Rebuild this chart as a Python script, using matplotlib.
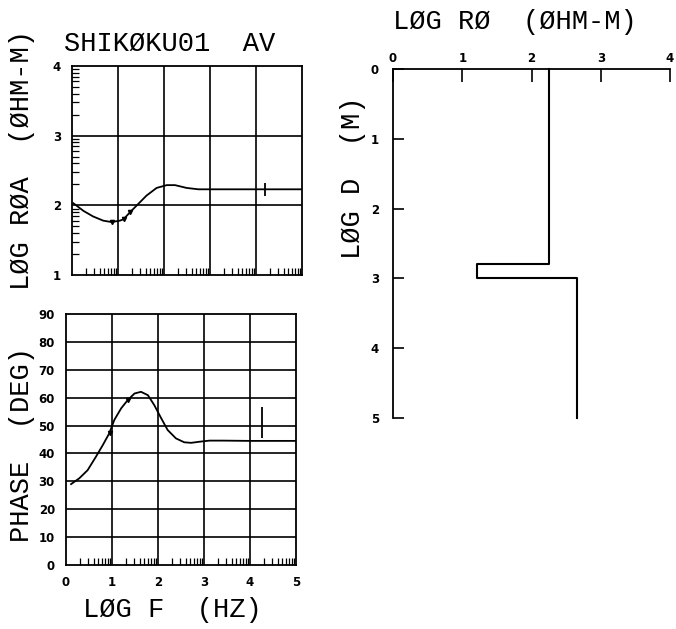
import numpy as np
import matplotlib
matplotlib.use("Agg")
import matplotlib.pyplot as plt

# apparent resistivity curve, log10(ohm-m) vs log10(f)
f_roa = [0.03, 0.25, 0.46, 0.68, 0.86, 1.04, 1.12, 1.26, 1.41, 1.62, 1.84,
         2.06, 2.24, 2.49, 2.75, 3.0, 3.43, 4.0, 4.5, 5.0]
roa = [2.03, 1.92, 1.84, 1.78, 1.76, 1.78, 1.80, 1.90, 2.00, 2.14, 2.25,
       2.29, 2.29, 2.25, 2.23, 2.23, 2.23, 2.23, 2.23, 2.23]
f_roa_obs = [0.86, 1.12, 1.26]
roa_obs = [1.76, 1.80, 1.90]
f_roa_err, roa_err_mid, roa_err = 4.2, 2.23, 0.09

# phase curve, degrees
f_ph = [0.11, 0.29, 0.47, 0.65, 0.80, 0.94, 1.05, 1.20, 1.34, 1.49, 1.63,
        1.78, 1.92, 2.07, 2.21, 2.39, 2.57, 2.72, 2.90, 3.12, 3.41, 4.0,
        4.5, 5.0]
phase = [29.0, 31.1, 34.0, 38.8, 43.0, 47.2, 52.0, 56.2, 59.1, 61.5, 62.1,
         60.9, 57.3, 52.6, 48.4, 45.4, 44.0, 43.8, 44.2, 44.6, 44.6, 44.5,
         44.5, 44.5]
f_ph_obs = [0.95, 1.35]
ph_obs = [47.5, 59.3]
f_ph_err, ph_err_mid, ph_err = 4.27, 51.0, 5.5

# layered model: log10 resistivity and log10 depth of layer boundaries
rho_layers = [2.25, 1.22, 2.65]
depth_tops = [0.0, 2.8, 3.0]
depth_bottom = 5.0

W, H = 676, 629
fig = plt.figure(figsize=(W / 100, H / 100), dpi=100)

big = dict(family="Liberation Mono", fontsize=19.5, color="black")
small = dict(family="DejaVu Sans", fontsize=8.5, fontweight="bold")


def box(x0, y0, x1, y1):
    return [x0 / W, 1 - y1 / H, (x1 - x0) / W, (y1 - y0) / H]


def log_minor(lo, hi):
    return [d + np.log10(k) for d in range(lo, hi) for k in range(2, 10)]


def frame(ax):
    for s in ax.spines.values():
        s.set_linewidth(1.3)
    ax.tick_params(which="both", direction="in", color="black")
    ax.tick_params(which="major", length=0, pad=8, width=1.2)
    ax.tick_params(which="minor", length=5, width=0.9)


# --- apparent resistivity ---
ax1 = fig.add_axes(box(72, 66, 302, 275))
ax1.set_xlim(0, 5)
ax1.set_ylim(1, 4)
for v in [1, 2, 3, 4]:
    ax1.axvline(v, color="black", lw=1.2)
for v in [2, 3]:
    ax1.axhline(v, color="black", lw=1.2)
ax1.plot(f_roa, roa, color="black", lw=1.3)
ax1.plot(f_roa_obs, roa_obs, "v", color="black", ms=3)
ax1.errorbar(f_roa_err, roa_err_mid, yerr=roa_err, color="black", lw=1.3,
             capsize=0)
ax1.set_xticks([0, 1, 2, 3, 4, 5])
ax1.set_xticklabels([])
ax1.set_xticks(log_minor(0, 5), minor=True)
ax1.set_yticks([1, 2, 3, 4])
ax1.set_yticklabels(["1", "2", "3", "4"], **small)
ax1.set_yticks(log_minor(1, 4), minor=True)
frame(ax1)

# --- phase ---
ax2 = fig.add_axes(box(66, 314, 296, 565))
ax2.set_xlim(0, 5)
ax2.set_ylim(0, 90)
for v in [1, 2, 3, 4]:
    ax2.axvline(v, color="black", lw=1.2)
for v in range(10, 90, 10):
    ax2.axhline(v, color="black", lw=1.2)
ax2.plot(f_ph, phase, color="black", lw=1.3)
ax2.plot(f_ph_obs, ph_obs, "v", color="black", ms=3)
ax2.errorbar(f_ph_err, ph_err_mid, yerr=ph_err, color="black", lw=1.3,
             capsize=0)
ax2.set_xticks([0, 1, 2, 3, 4, 5])
ax2.set_xticklabels(["0", "1", "2", "3", "4", "5"], **small)
ax2.set_xticks(log_minor(0, 5), minor=True)
ax2.set_yticks(range(0, 91, 10))
ax2.set_yticklabels([str(v) for v in range(0, 91, 10)], **small)
frame(ax2)

# --- model ---
ax3 = fig.add_axes(box(393, 69, 670, 418))
ax3.set_xlim(0, 4)
ax3.set_ylim(5, 0)
mx = np.repeat(rho_layers, 2)
my = np.column_stack([depth_tops, depth_tops[1:] + [depth_bottom]]).ravel()
ax3.plot(mx, my, color="black", lw=1.5, clip_on=False)
for side in ["right", "bottom"]:
    ax3.spines[side].set_visible(False)
for side in ["top", "left"]:
    ax3.spines[side].set_linewidth(1.3)
ax3.xaxis.tick_top()
ax3.set_xticks([0, 1, 2, 3, 4])
ax3.set_xticklabels(["0", "1", "2", "3", "4"], **small)
ax3.set_yticks([0, 1, 2, 3, 4, 5])
ax3.set_yticklabels(["0", "1", "2", "3", "4", "5"], **small)
ax3.tick_params(axis="x", direction="in", length=9, width=1.2, pad=3)
ax3.tick_params(axis="y", direction="in", length=8, width=1.2, pad=10)

# --- labels ---
fig.text(170 / W, 1 - 44 / H, "SHIKØKU01  AV", ha="center", va="center", **big)
fig.text(22 / W, 1 - 160 / H, "LØG RØA  (ØHM-M)", rotation=90,
         ha="center", va="center", **big)
fig.text(22 / W, 1 - 445 / H, "PHASE  (DEG)", rotation=90,
         ha="center", va="center", **big)
fig.text(172 / W, 1 - 610 / H, "LØG F  (HZ)", ha="center", va="center", **big)
fig.text(515 / W, 1 - 22 / H, "LØG RØ  (ØHM-M)", ha="center", va="center", **big)
fig.text(353 / W, 1 - 178 / H, "LØG D  (M)", rotation=90,
         ha="center", va="center", **big)

fig.savefig("out.png", dpi=100)
